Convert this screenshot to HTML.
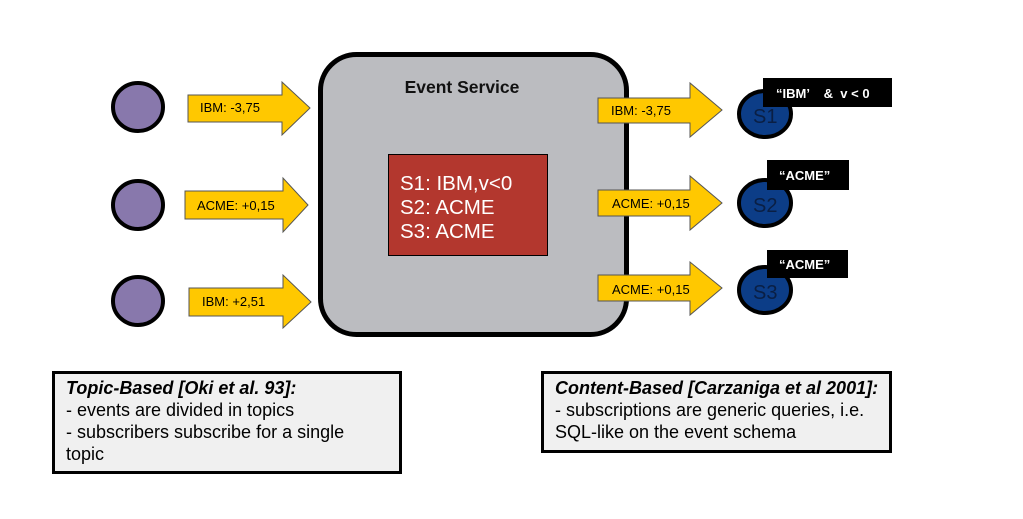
<!DOCTYPE html>
<html><head><meta charset="utf-8"><style>
html,body{margin:0;padding:0;background:#fff;}
svg{display:block;font-family:"Liberation Sans",Arial,sans-serif;}
</style></head><body>
<svg width="1023" height="519" viewBox="0 0 1023 519" xmlns="http://www.w3.org/2000/svg">
<rect width="1023" height="519" fill="#fff"/>
<rect x="320.5" y="54.5" width="306" height="280" rx="36" fill="#bbbcc0" stroke="#000" stroke-width="5"/>
<text x="462" y="93" text-anchor="middle" font-size="17.5" font-weight="bold" fill="#111">Event Service</text>
<rect x="388.5" y="154.5" width="159" height="101" fill="#b3372e" stroke="#000" stroke-width="1"/>
<g fill="#fff" font-size="20.5">
<text x="400" y="190">S1: IBM,v&lt;0</text>
<text x="400" y="214">S2: ACME</text>
<text x="400" y="238">S3: ACME</text>
</g>
<g fill="#8878ac" stroke="#000" stroke-width="4">
<ellipse cx="138" cy="107" rx="25" ry="24"/>
<ellipse cx="138" cy="205" rx="25" ry="24"/>
<ellipse cx="138" cy="301" rx="25" ry="24"/>
</g>
<g fill="#ffc800" stroke="#555" stroke-width="1">
<polygon points="188,95 282,95 282,82 310,108 282,135 282,122 188,122"/>
<polygon points="185,191 283,191 283,178 308,205 283,232 283,219 185,219"/>
<polygon points="189,288 283,288 283,275 311,302 283,328 283,316 189,316"/>
<polygon points="598,98 690,98 690,83 722,110 690,137 690,123 598,123"/>
<polygon points="598,190 690,190 690,176 722,203 690,230 690,216 598,216"/>
<polygon points="598,275 690,275 690,262 722,288 690,315 690,301 598,301"/>
</g>
<g font-size="13" fill="#000">
<text x="200" y="112">IBM: -3,75</text>
<text x="197" y="210">ACME: +0,15</text>
<text x="202" y="306">IBM: +2,51</text>
<text x="611" y="115">IBM: -3,75</text>
<text x="612" y="208">ACME: +0,15</text>
<text x="612" y="294">ACME: +0,15</text>
</g>
<g fill="#0c3d87" stroke="#000" stroke-width="4">
<ellipse cx="765" cy="114" rx="26" ry="23"/>
<ellipse cx="765" cy="203" rx="26" ry="23"/>
<ellipse cx="765" cy="290" rx="26" ry="23"/>
</g>
<g font-size="20" fill="#0a1f44">
<text x="753" y="123">S1</text>
<text x="753" y="212">S2</text>
<text x="753" y="299">S3</text>
</g>
<rect x="763" y="78" width="129" height="29" fill="#000"/>
<rect x="767" y="160" width="82" height="30" fill="#000"/>
<rect x="767" y="250" width="81" height="28" fill="#000"/>
<g font-size="13" font-weight="bold" fill="#fff">
<text x="776" y="98" xml:space="preserve">“IBM’    &amp;  v &lt; 0</text>
<text x="779" y="180">“ACME”</text>
<text x="779" y="269">“ACME”</text>
</g>
<rect x="53.5" y="372.5" width="347" height="100" fill="#f0f0f0" stroke="#000" stroke-width="3"/>
<g font-size="18" fill="#000">
<text x="66" y="394" font-weight="bold" font-style="italic">Topic-Based [Oki et al. 93]:</text>
<text x="66" y="416">- events are divided in topics</text>
<text x="66" y="438">- subscribers subscribe for a single</text>
<text x="66" y="460">topic</text>
</g>
<rect x="542.5" y="372.5" width="348" height="79" fill="#f0f0f0" stroke="#000" stroke-width="3"/>
<g font-size="18" fill="#000">
<text x="555" y="394" font-weight="bold" font-style="italic">Content-Based [Carzaniga et al 2001]:</text>
<text x="555" y="416">- subscriptions are generic queries, i.e.</text>
<text x="555" y="438">SQL-like on the event schema</text>
</g>
</svg>
</body></html>
